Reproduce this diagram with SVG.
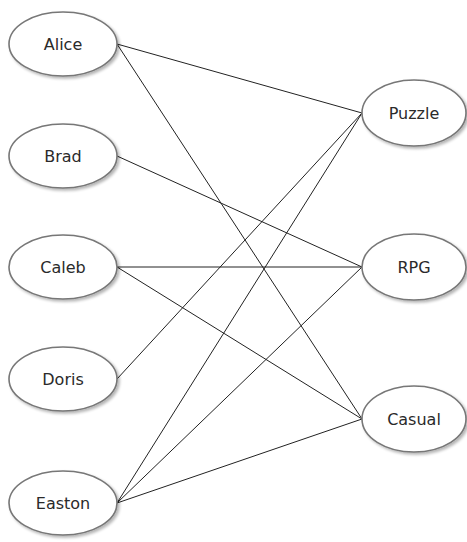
<svg xmlns="http://www.w3.org/2000/svg" width="467" height="542" viewBox="0 0 467 542">
<defs>
<filter id="sh" x="-20%" y="-20%" width="150%" height="150%">
<feGaussianBlur in="SourceAlpha" stdDeviation="1.5"/>
<feOffset dx="2" dy="2" result="b"/>
<feComponentTransfer><feFuncA type="linear" slope="0.3"/></feComponentTransfer>
<feMerge><feMergeNode/><feMergeNode in="SourceGraphic"/></feMerge>
</filter>
</defs>
<style>
.n ellipse{fill:#fff;stroke:#777;stroke-width:1.6;filter:url(#sh)}
.n text{font-family:"DejaVu Sans",Verdana,sans-serif;font-size:16px;fill:#2a2a2a;text-anchor:middle;dominant-baseline:central}
#edges line{stroke:#222;stroke-width:1}
</style>
<rect width="467" height="542" fill="#fff"/>
<g id="edges">
<line x1="117" y1="44" x2="362" y2="113"/>
<line x1="117" y1="44" x2="362" y2="419"/>
<line x1="117" y1="156" x2="362" y2="267"/>
<line x1="117" y1="267" x2="362" y2="267"/>
<line x1="117" y1="267" x2="362" y2="419"/>
<line x1="117" y1="379" x2="362" y2="113"/>
<line x1="117" y1="503" x2="362" y2="113"/>
<line x1="117" y1="503" x2="362" y2="267"/>
<line x1="117" y1="503" x2="362" y2="419"/>
</g>
<g id="alice" class="n"><ellipse cx="63" cy="44" rx="54" ry="32"/><text x="63" y="44">Alice</text></g>
<g id="brad" class="n"><ellipse cx="63" cy="156" rx="54" ry="32"/><text x="63" y="156">Brad</text></g>
<g id="caleb" class="n"><ellipse cx="63" cy="267" rx="54" ry="32"/><text x="63" y="267">Caleb</text></g>
<g id="doris" class="n"><ellipse cx="63" cy="379" rx="54" ry="32"/><text x="63" y="379">Doris</text></g>
<g id="easton" class="n"><ellipse cx="63" cy="503" rx="54" ry="32"/><text x="63" y="503">Easton</text></g>
<g id="puzzle" class="n"><ellipse cx="414" cy="113" rx="52" ry="33"/><text x="414" y="113">Puzzle</text></g>
<g id="rpg" class="n"><ellipse cx="414" cy="267" rx="52" ry="33"/><text x="414" y="267">RPG</text></g>
<g id="casual" class="n"><ellipse cx="414" cy="419" rx="52" ry="33"/><text x="414" y="419">Casual</text></g>
</svg>
